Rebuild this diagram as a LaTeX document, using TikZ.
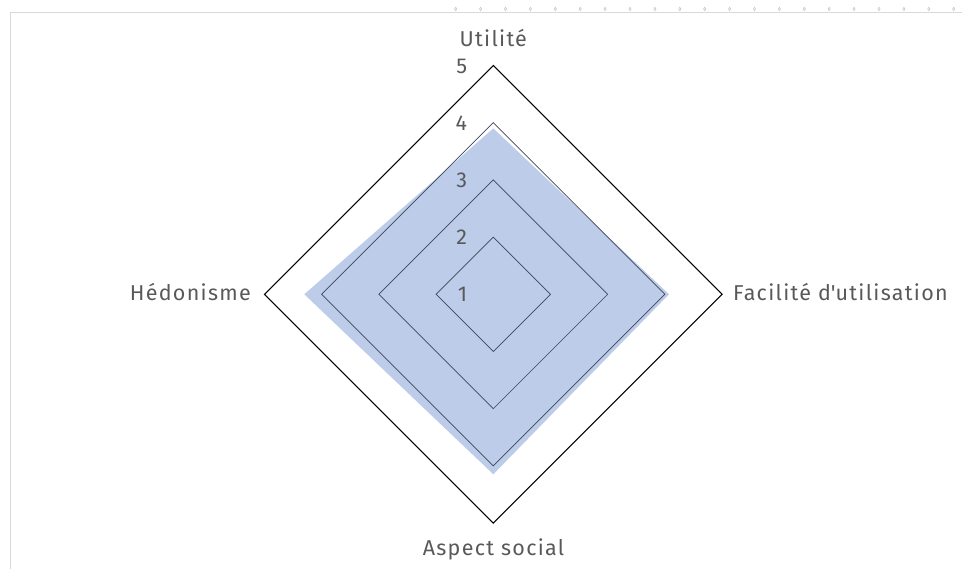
\documentclass[tikz,border=0pt]{standalone}
\usepackage{fontspec}
\setmainfont[LetterSpace=6]{Fira Sans}
\usepackage{tikz}
\definecolor{serie}{HTML}{BCCCE9}
\definecolor{etiq}{HTML}{595959}
\definecolor{grille}{HTML}{3C4658}
\definecolor{cadre}{HTML}{D9D9D9}

\begin{document}
\begin{tikzpicture}[x=1pt,y=1pt,
		axe/.style={text=etiq, font=\fontsize{21.5}{24}\selectfont, inner sep=0pt},
		ring/.style={draw=grille, line width=0.7pt},
		outer/.style={draw=black, line width=1.1pt}]
	\useasboundingbox (0,0) rectangle (962,569);
	% cadre du graphique
	\draw[cadre, line width=1.5pt] (10.7,0) -- (10.7,556.5) -- (962,556.5);
	\foreach \i in {0,...,20}
		\draw[cadre!80!gray, line width=0.6pt] ({455.7+24.9*\i},560) ellipse (1.1 and 1.7);
	\begin{scope}[shift={(493.3,274.7)}]
		\coordinate (o) at (0,0);
		% serie
		\fill[serie] (0,165.9) -- (175.7,0) -- (0,-180) -- (-189,0) -- cycle;
		\foreach \k in {2,3,4}
			\draw[ring] (0,{(\k-1)*57.2}) -- ({(\k-1)*57.2},0) -- (0,{-(\k-1)*57.2}) -- ({-(\k-1)*57.2},0) -- cycle;
		\draw[outer] (0,228.8) -- (228.8,0) -- (0,-228.8) -- (-228.8,0) -- cycle;
		\foreach \k in {1,...,5}
			\node[axe, anchor=base east] (n\k) at (-26,{(\k-1)*57.2-7.7}) {\k};
		\node[axe, anchor=base] (utilite) at (0,247.3) {Utilité};
		\node[axe, anchor=base west] (facilite) at (239.7,-6.4) {Facilité d\textquotesingle utilisation};
		\node[axe, anchor=base] (social) at (0.2,-261.7) {Aspect social};
		\node[axe, anchor=base east] (hedonisme) at (-242.3,-6.4) {Hédonisme};
	\end{scope}
\end{tikzpicture}
\end{document}
